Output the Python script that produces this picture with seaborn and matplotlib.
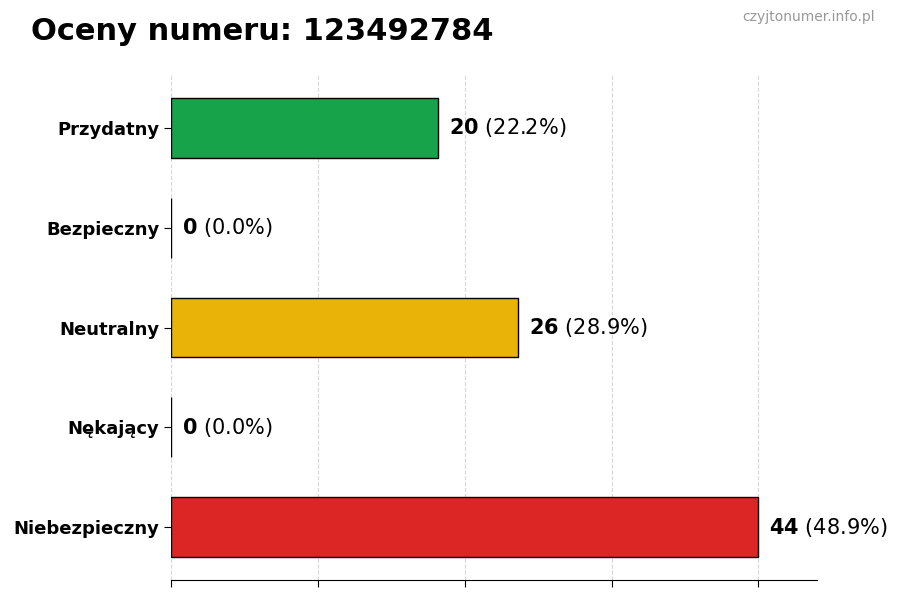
import matplotlib
matplotlib.use("Agg")
import matplotlib.pyplot as plt
import seaborn as sns
import pandas as pd

categories = ["Przydatny", "Bezpieczny", "Neutralny", "Nękający", "Niebezpieczny"]
counts = [20, 0, 26, 0, 44]
percents = [22.2, 0.0, 28.9, 0.0, 48.9]
colors = ["#16a34a", "#16a34a", "#eab308", "#dc2626", "#dc2626"]
xticks = [0, 11, 22, 33, 44]

sns.set_style("ticks")
plt.rcParams['font.family'] = ['DejaVu Sans']
plt.rcParams['text.color'] = 'black'
plt.rcParams['axes.labelcolor'] = 'black'
plt.rcParams['xtick.color'] = 'black'
plt.rcParams['ytick.color'] = 'black'

df = pd.DataFrame({"cat": categories, "count": counts})

fig = plt.figure(figsize=(9, 6), dpi=100)
ax = fig.add_axes([0.19, 0.0333, 0.718, 0.8417])

sns.barplot(data=df, y="cat", x="count", hue="cat", palette=colors, legend=False,
            width=0.6, edgecolor="black", linewidth=1, saturation=1, ax=ax, orient="h")

ax.set_xlim(0, max(counts) * 1.1)
ax.set_ylim(4.53, -0.53)
ax.set_xticks(xticks)
ax.set_xticklabels([])
ax.set_xlabel("")
ax.set_ylabel("")
ax.grid(axis="x", linestyle="--", color="#cccccc", alpha=0.8, linewidth=0.8)
ax.set_axisbelow(True)
for s in ["top", "right", "left"]:
    ax.spines[s].set_visible(False)
ax.spines["bottom"].set_color("black")
ax.tick_params(axis="both", which="both", length=5, color="black", width=0.8,
               bottom=True, left=True, labelcolor="black")
for lbl in ax.get_yticklabels():
    lbl.set_fontweight("bold")
    lbl.set_fontsize(13)
    lbl.set_color("black")

off = max(counts) * 0.018
for i, (c, p) in enumerate(zip(counts, percents)):
    ax.annotate(f"$\\bf{{{c}}}$ ({p:.1f}%)", xy=(c + off, i), va="center", ha="left",
                fontsize=15, color="black", annotation_clip=False)

fig.text(0.034, 0.948, "Oceny numeru: 123492784", fontsize=22, fontweight="bold",
         ha="left", va="center", color="black")
fig.text(0.972, 0.972, "czyjtonumer.info.pl", fontsize=10, color="#999999",
         ha="right", va="center")

fig.savefig("out.png", dpi=100)
